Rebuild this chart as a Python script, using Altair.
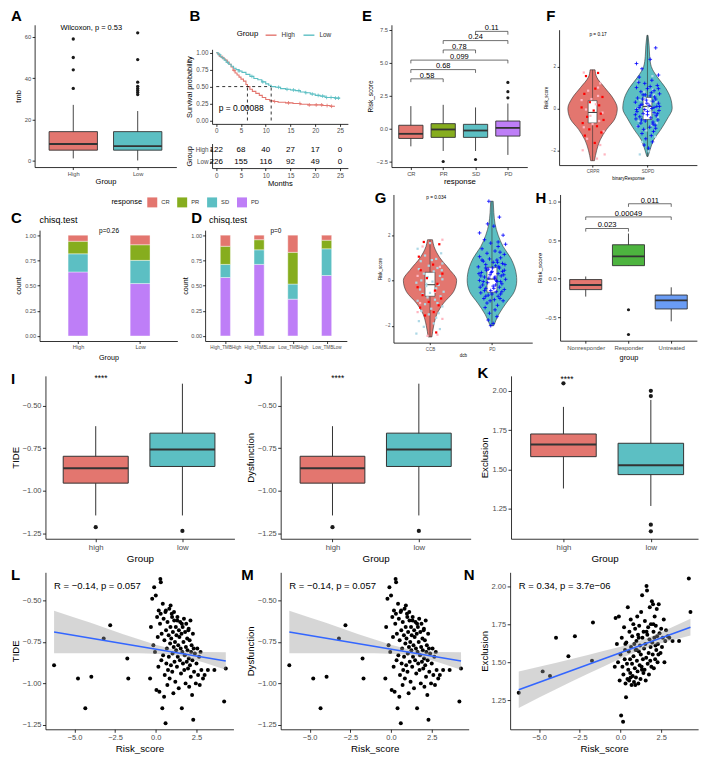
import json
import numpy as np
import pandas as pd
import altair as alt

FONT = "Liberation Sans"
RED = "#E3766F"
TEAL = "#5CBFC3"
GREEN = "#86AD1E"
PURPLE = "#BE7EF7"
H_GREEN = "#4DB43F"
H_BLUE = "#6A9CF4"
DARK = "#333333"
PLUS = "M-1,0L1,0M0,-1L0,1"
LETTER_SIZE = 15
# the reference layout (in its own pixel frame) is squeezed so that the whole figure fits the page
FX = 689 / 698
FY = 740 / 752

# ---------------- data ----------------
# A
A_groups = ["High", "Low"]
A_q1 = [5, 5]
A_med = [8, 7]
A_q3 = [14, 14]
A_lo = [1, 0]
A_hi = [27, 24]
A_out_pos = [1, 1, 1, 1, 2, 2, 2, 2, 2, 2, 2, 2]
A_out_val = [35, 44, 50, 59, 32, 33, 34, 35, 36, 38, 49, 62]

# B
B_high_t = [0, 0.3, 0.6, 1.0, 1.4, 1.8, 2.2, 2.6, 3.0, 3.4, 3.8, 4.2, 4.6, 5.0, 5.5, 6.0, 6.3, 6.8, 7.3, 8.0,
            8.7, 9.3, 10.0, 10.8, 11.6, 12.5, 14.0, 15.5, 17.0, 18.5, 21.5, 23.0, 24.0]
B_high_s = [1.0, 0.98, 0.95, 0.93, 0.91, 0.89, 0.86, 0.83, 0.79, 0.74, 0.70, 0.67, 0.64, 0.61, 0.58, 0.53, 0.50,
            0.46, 0.43, 0.40, 0.37, 0.34, 0.31, 0.29, 0.28, 0.27, 0.26, 0.25, 0.24, 0.23, 0.22, 0.21, 0.21]
B_low_t = [0, 0.4, 0.8, 1.2, 1.6, 2.0, 2.5, 3.0, 3.5, 4.0, 4.6, 5.2, 6.0, 6.8, 7.6, 8.4, 9.2, 10.0, 10.6, 11.1,
           12.0, 13.0, 14.0, 15.0, 16.0, 17.0, 18.0, 19.0, 20.0, 21.0, 22.0, 24.0, 25.0]
B_low_s = [1.0, 0.97, 0.94, 0.92, 0.89, 0.86, 0.83, 0.80, 0.77, 0.75, 0.73, 0.71, 0.68, 0.65, 0.62, 0.60, 0.57,
           0.54, 0.52, 0.50, 0.49, 0.47, 0.46, 0.45, 0.44, 0.42, 0.41, 0.39, 0.37, 0.36, 0.34, 0.33, 0.33]
B_high_cens = [1.3, 3.6, 11.8, 14.6, 16.9, 18.8, 20.2, 21.3, 22.4, 23.3]
B_low_cens = [0.7, 2.3, 4.6, 7.2, 9.4, 12.6, 14.3, 15.6, 16.7, 18.1, 19.4, 20.6, 21.5, 22.3, 23.2, 24.1, 24.7]
B_median_t = [6.3, 11.1]
B_tab_t = [0, 5, 10, 15, 20, 25]
B_tab_high = [122, 68, 40, 27, 17, 0]
B_tab_low = [226, 155, 116, 92, 49, 0]

# C / D
RESP = ["CR", "PR", "SD", "PD"]
RESP_COL = [RED, GREEN, TEAL, PURPLE]
C_groups = ["High", "Low"]
C_CR = [0.06, 0.095]
C_PR = [0.125, 0.155]
C_SD = [0.18, 0.23]
C_PD = [0.635, 0.52]
D_groups = ["High_TMBHigh", "High_TMBLow", "Low_TMBHigh", "Low_TMBLow"]
D_CR = [0.11, 0.045, 0.17, 0.05]
D_PR = [0.18, 0.10, 0.315, 0.085]
D_SD = [0.13, 0.145, 0.15, 0.265]
D_PD = [0.58, 0.71, 0.365, 0.60]

# E
E_names = ["CR", "PR", "SD", "PD"]
E_q1 = [-0.75, -0.67, -0.67, -0.57]
E_med = [-0.40, -0.07, -0.15, 0.05]
E_q3 = [0.25, 0.37, 0.32, 0.57]
E_lo = [-1.35, -1.7, -1.7, -2.0]
E_hi = [1.7, 1.8, 1.6, 1.9]
E_out_pos = [2, 3, 4, 4, 4]
E_out_val = [-2.5, -2.35, 2.33, 2.8, 3.5]
E_cmp_x1 = [1, 1, 1, 2, 2, 3]
E_cmp_x2 = [2, 3, 4, 3, 4, 4]
E_cmp_y = [3.77, 4.47, 5.19, 5.96, 6.67, 7.37]
E_cmp_lab = ["0.58", "0.68", "0.099", "0.78", "0.24", "0.11"]

# F
F_crpr_y = [-2.5, -2.0, -1.5, -1.0, -0.5, 0.0, 0.5, 1.0, 1.5, 1.85]
F_crpr_w = [0.035, 0.075, 0.14, 0.255, 0.405, 0.45, 0.37, 0.22, 0.075, 0.045]
F_sdpd_y = [-2.3, -2.0, -1.5, -1.0, -0.5, 0.0, 0.5, 1.0, 1.5, 2.0, 2.5, 3.0, 3.5]
F_sdpd_w = [0.01, 0.045, 0.115, 0.245, 0.36, 0.45, 0.42, 0.325, 0.18, 0.07, 0.04, 0.03, 0.01]
F_box = [(1, -0.69, -0.19, 0.375, -2.5, 1.85), (2, -0.53, 0.1, 0.53, -2.3, 3.5)]
F_red = [(0.1, 1.7), (-0.12, 1.55), (0.05, 0.95), (-0.15, 0.7), (0.18, 0.55), (-0.05, 0.3), (0.12, 0.15),
         (-0.2, 0.05), (0.02, -0.1), (0.15, -0.25), (-0.1, -0.4), (0.2, -0.55), (-0.18, -0.7), (0.08, -0.85),
         (-0.06, -1.0), (0.16, -1.15), (-0.14, -1.3), (0.04, -1.65)]
F_pink = [(-0.16, 1.72), (0.14, 1.2), (-0.08, 0.85), (0.1, 0.6), (-0.2, 0.4), (0.06, 0.2), (-0.12, -0.05),
          (0.18, -0.2), (-0.04, -0.35), (0.12, -0.6), (-0.16, -0.9), (0.2, -1.1), (-0.1, -1.45), (0.14, -1.75),
          (-0.18, -2.0), (0.22, -2.2), (0.08, -2.4), (-0.02, 0.45), (0.0, -0.75), (0.1, 1.0)]
F_blue = [(-0.2, 2.15), (0.15, 2.9), (0.05, 2.35), (-0.1, 1.9), (0.2, 1.6), (-0.15, 1.5), (0.08, 1.35),
          (-0.05, 1.2), (0.18, 1.1), (-0.2, 1.0), (0.0, 0.95), (0.12, 0.85), (-0.12, 0.8), (0.22, 0.7),
          (-0.08, 0.65), (0.05, 0.6), (-0.18, 0.5), (0.15, 0.45), (-0.02, 0.4), (0.1, 0.35), (-0.22, 0.3),
          (0.2, 0.25), (-0.1, 0.2), (0.03, 0.15), (0.17, 0.1), (-0.15, 0.05), (0.08, 0.0), (-0.05, -0.05),
          (0.21, -0.1), (-0.19, -0.15), (0.12, -0.2), (-0.08, -0.25), (0.0, -0.3), (0.16, -0.35), (-0.14, -0.4),
          (0.06, -0.45), (-0.21, -0.5), (0.19, -0.55), (-0.04, -0.6), (0.1, -0.65), (-0.12, -0.7), (0.14, -0.8),
          (-0.17, -0.85), (0.04, -0.9), (-0.07, -1.0), (0.11, -1.1), (-0.1, -1.2), (0.07, -1.3), (-0.03, -1.45),
          (0.09, -1.6), (-0.06, -1.75), (0.02, -1.9), (0.13, 0.55), (-0.13, 0.15), (0.18, -0.25), (-0.2, -0.05),
          (0.07, 0.75), (-0.09, 0.45), (0.0, -0.15), (0.2, 0.95), (-0.16, 1.25), (0.1, -0.75), (-0.01, 0.25),
          (0.15, -0.95), (-0.11, -0.55), (0.05, 1.05), (0.22, 0.1), (-0.22, -0.3), (0.12, 0.05), (-0.04, 0.65)]
F_lblue = [(-0.18, 1.3), (0.1, 0.9), (-0.05, 0.5), (0.16, 0.3), (-0.12, 0.1), (0.04, -0.1), (0.19, -0.4),
           (-0.16, -0.6), (0.08, -0.8), (-0.02, -1.05), (0.14, -1.35), (-0.1, -1.6), (0.02, -2.05), (-0.14, -2.2),
           (0.12, 0.65), (-0.2, 0.0), (0.06, 0.35), (-0.08, -0.3), (0.17, -0.7), (-0.06, 0.8), (0.09, 1.55),
           (-0.19, -0.85), (0.01, 0.05), (0.11, -0.2), (-0.13, 0.4)]

# G
G_ccb_y = [-2.5, -2.0, -1.5, -1.0, -0.5, 0.0, 0.5, 1.0, 1.5, 1.8]
G_ccb_w = [0.03, 0.06, 0.11, 0.22, 0.38, 0.43, 0.31, 0.16, 0.065, 0.04]
G_pd_y = [-2.0, -1.5, -1.0, -0.5, 0.0, 0.5, 1.0, 1.5, 2.0, 2.5, 3.0, 3.5]
G_pd_w = [0.03, 0.11, 0.23, 0.36, 0.40, 0.375, 0.30, 0.18, 0.10, 0.05, 0.03, 0.02]
G_box = [(1, -0.70, -0.19, 0.36, -2.5, 1.8), (2, -0.52, 0.06, 0.58, -2.0, 3.5)]
G_red = [(-0.1, 1.7), (0.15, 1.6), (-0.18, 1.05), (0.05, 0.7), (-0.15, 0.45), (0.2, 0.3), (-0.05, 0.1),
         (0.12, -0.15), (-0.2, -0.3), (0.08, -0.45), (-0.12, -0.65), (0.18, -0.8), (-0.02, -0.95), (0.14, -1.1),
         (-0.16, -1.2), (0.06, -1.4), (-0.08, -1.55), (0.1, -2.3)]
G_lblue = [(0.0, 1.65), (-0.2, 1.4), (0.18, 1.2), (-0.08, 1.1), (0.1, 0.95), (-0.15, 0.85), (0.2, 0.75),
           (-0.02, 0.65), (0.12, 0.55), (-0.18, 0.5), (0.06, 0.4), (-0.1, 0.3), (0.16, 0.2), (-0.04, 0.15),
           (0.2, 0.05), (-0.14, 0.0), (0.04, -0.05), (-0.22, -0.1), (0.14, -0.2), (-0.06, -0.25), (0.1, -0.35),
           (-0.16, -0.4), (0.22, -0.5), (0.0, -0.55), (-0.12, -0.6), (0.17, -0.7), (-0.04, -0.75), (0.08, -0.85),
           (-0.2, -0.9), (0.12, -1.0), (-0.08, -1.05), (0.2, -1.15), (0.02, -1.25), (-0.14, -1.35), (0.14, -1.45),
           (-0.02, -1.5), (0.1, -1.65), (-0.18, -1.8), (0.06, -1.9), (-0.1, -2.05), (0.16, -2.15), (-0.22, -2.35),
           (0.03, 0.9), (-0.06, -0.15), (0.19, 0.45)]
G_pink = [(0.2, 1.8), (-0.12, 1.5), (0.16, 0.6), (-0.2, 0.2), (0.08, -0.5), (-0.16, -1.0), (0.2, -1.7),
          (-0.04, -2.45), (0.12, -2.4), (-0.2, -1.4)]
G_blue = [(-0.05, 3.5), (0.12, 2.8), (0.03, 2.4), (-0.2, 2.1), (0.18, 2.0), (-0.12, 1.8), (0.22, 1.6),
          (-0.02, 1.65), (0.1, 1.5), (-0.16, 1.4), (0.05, 1.3), (-0.08, 1.2), (0.2, 1.15), (-0.2, 1.05),
          (0.14, 1.0), (-0.04, 0.95), (0.08, 0.9), (-0.14, 0.85), (0.02, 0.8), (0.17, 0.75), (-0.1, 0.7),
          (0.06, 0.65), (-0.22, 0.6), (0.12, 0.55), (-0.06, 0.5), (0.2, 0.45), (0.0, 0.4), (-0.17, 0.35),
          (0.1, 0.3), (-0.03, 0.25), (0.15, 0.2), (-0.12, 0.15), (0.04, 0.1), (0.22, 0.05), (-0.2, 0.0),
          (0.08, -0.05), (-0.07, -0.1), (0.16, -0.15), (-0.15, -0.2), (0.02, -0.25), (0.12, -0.3), (-0.1, -0.35),
          (0.2, -0.4), (-0.02, -0.45), (0.07, -0.5), (-0.18, -0.55), (0.14, -0.6), (-0.06, -0.65), (0.1, -0.7),
          (-0.13, -0.8), (0.04, -0.85), (0.18, -0.9), (-0.08, -1.0), (0.09, -1.1), (-0.11, -1.2), (0.05, -1.3),
          (-0.04, -1.45), (0.08, -1.6), (-0.06, -1.75), (0.02, -1.9), (-0.02, -2.0), (0.13, 1.25), (-0.09, 0.45),
          (0.19, 0.25), (-0.14, -0.05), (0.06, -0.2), (-0.19, -0.3), (0.11, 0.6), (-0.05, 0.1), (0.16, -0.5),
          (-0.1, 0.55), (0.0, -0.6), (0.21, 0.7), (-0.16, 0.9), (0.07, 0.0), (-0.01, 0.35), (0.13, -0.8),
          (-0.21, 0.3), (0.03, -0.35), (0.1, 1.7), (-0.07, 2.5), (0.05, 0.15), (-0.12, -0.45), (0.17, 0.4),
          (-0.03, -0.9), (0.09, 0.8), (-0.18, 0.2), (0.01, 0.55), (0.14, -0.05), (-0.1, -0.7)]

# H
H_names = ["Nonresponder", "Responder", "Untreated"]
H_q1 = [-0.14, 0.17, -0.39]
H_med = [-0.08, 0.29, -0.28]
H_q3 = [-0.01, 0.44, -0.21]
H_lo = [-0.23, 0.17, -0.55]
H_hi = [0.03, 0.585, -0.11]
H_out_pos = [2, 2]
H_out_val = [-0.40, -0.72]
H_cmp_x1 = [1, 1, 2]
H_cmp_x2 = [2, 3, 3]
H_cmp_y = [0.65, 0.80, 0.97]
H_cmp_lab = ["0.023", "0.00049", "0.011"]

# I / J / K
IK_groups = ["high", "low"]
TIDE_q1 = [-0.956, -0.858]
TIDE_med = [-0.869, -0.758]
TIDE_q3 = [-0.798, -0.662]
TIDE_lo = [-1.146, -1.146]
TIDE_hi = [-0.621, -0.371]
TIDE_out_pos = [1, 2]
TIDE_out_val = [-1.215, -1.237]
EXC_q1 = [1.582, 1.468]
EXC_med = [1.659, 1.528]
EXC_q3 = [1.726, 1.667]
EXC_lo = [1.380, 1.269]
EXC_hi = [1.898, 1.942]
EXC_out_pos = [1, 2, 2, 2, 2]
EXC_out_val = [2.048, 2.0, 1.967, 1.150, 1.108]

# L / M / N
RS = [-6.25, -4.78, -4.33, -3.96, -3.2, -2.8, -1.75, -1.69,
      -0.35, -0.3, -0.22, -0.15, -0.1, -0.05, 0.0, 0.04, 0.08, 0.12, 0.16, 0.18, 0.22, 0.26, 0.28, 0.31, 0.34, 0.36, 0.4, 0.43,
      0.45, 0.48, 0.51, 0.53, 0.55, 0.59, 0.6, 0.63, 0.65, 0.68, 0.71, 0.72, 0.75, 0.79, 0.8, 0.83, 0.85, 0.88, 0.9, 0.93,
      0.95, 0.98, 1.01, 1.03, 1.05, 1.08, 1.1, 1.13, 1.15, 1.18, 1.2, 1.23, 1.25, 1.27, 1.3, 1.33, 1.35, 1.38, 1.41, 1.42,
      1.45, 1.48, 1.5, 1.53, 1.55, 1.58, 1.6, 1.63, 1.65, 1.67, 1.7, 1.73, 1.75, 1.78, 1.8, 1.83, 1.85, 1.87, 1.9, 1.93,
      1.95, 1.98, 2.0, 2.03, 2.05, 2.08, 2.1, 2.13, 2.15, 2.17, 2.2, 2.23, 2.25, 2.28, 2.3, 2.35, 2.4, 2.46, 2.5, 2.55,
      2.6, 2.66, 2.7, 2.75, 2.8, 2.9, 3.0, 3.2, 3.6, 4.2, 4.3, 0.3, 0.62, 1.0, 1.32, 1.6, 2.02, 2.33, 0.91, 1.12]
TIDE = [-0.89, -0.97, -1.15, -0.96, -0.73, -0.65, -0.85, -0.97,
        -0.97, -0.66, -0.49, -0.77, -0.42, -0.81, -0.47, -1.04, -0.60, -0.72, -0.90, -0.56, -1.05, -0.64, -0.37, -0.39, -0.86, -0.70, -1.15, -0.52,
        -0.83, -0.61, -1.08, -0.74, -0.95, -0.57, -1.24, -0.68, -0.88, -0.79, -1.01, -0.63, -0.92, -0.71, -0.84, -0.55, -0.97, -0.76, -0.66, -0.89,
        -0.73, -0.58, -0.93, -0.82, -0.69, -1.06, -0.78, -0.62, -0.87, -0.75, -0.99, -0.66, -0.80, -0.71, -0.90, -0.60, -0.84, -0.77, -1.03, -0.68,
        -0.72, -0.86, -0.63, -0.79, -0.94, -0.70, -1.15, -0.81, -0.66, -0.88, -0.75, -0.61, -0.92, -0.83, -0.69, -1.00, -0.78, -0.64, -0.87, -0.73,
        -0.80, -0.91, -0.68, -0.85, -1.02, -0.74, -0.89, -0.62, -0.96, -0.81, -0.77, -1.07, -0.86, -0.70, -1.22, -0.93, -0.82, -1.00, -0.88, -0.79,
        -0.95, -0.84, -1.01, -0.81, -0.92, -0.97, -0.95, -0.92, -0.92, -1.11, -0.91, -0.58, -0.56, -0.60, -0.62, -0.64, -0.67, -0.79, -0.53, -0.57]
EXCL = [1.30, 1.44, 1.41, 1.66, 1.54, 1.67, 1.51, 1.76,
        1.47, 1.79, 1.62, 1.50, 1.80, 1.38, 1.55, 1.15, 1.66, 1.47, 1.11, 1.42, 1.73, 1.52, 1.58, 1.36, 1.27, 1.63, 1.49, 1.39,
        1.86, 1.45, 1.57, 1.38, 1.70, 1.52, 1.43, 1.78, 1.60, 1.35, 1.49, 1.67, 1.41, 1.75, 1.54, 1.37, 1.62, 1.46, 1.72, 1.58,
        1.40, 1.64, 1.51, 1.80, 1.44, 1.68, 1.36, 1.57, 1.74, 1.48, 1.61, 1.39, 1.55, 1.83, 1.47, 1.94, 1.66, 1.52, 1.43, 1.70,
        1.59, 1.45, 1.77, 1.62, 1.38, 1.53, 2.00, 1.97, 1.68, 1.49, 1.73, 1.56, 1.42, 1.65, 1.86, 1.51, 1.60, 1.75, 1.47, 1.90,
        1.63, 1.55, 1.88, 1.70, 1.46, 1.66, 1.80, 1.52, 1.61, 1.74, 1.58, 1.85, 1.67, 1.50, 1.62, 1.88, 1.69, 1.56, 1.72, 1.60,
        1.66, 1.78, 1.50, 1.64, 1.71, 1.67, 1.66, 1.64, 1.64, 2.05, 1.83, 1.62, 1.40, 1.58, 1.45, 1.70, 1.75, 1.55, 1.35, 1.66]
BAND_X = [-6.25, -5, -4, -3, -2, -1, 0, 1, 1.5, 2, 3, 4.3]
L_band_lo = [-0.818, -0.819, -0.819, -0.819, -0.819, -0.819, -0.821, -0.827, -0.835, -0.847, -0.876, -0.918]
L_band_hi = [-0.562, -0.603, -0.635, -0.669, -0.703, -0.735, -0.767, -0.793, -0.801, -0.807, -0.810, -0.812]
L_line_y = [-0.69, -0.865]
N_band_lo = [1.200, 1.268, 1.321, 1.373, 1.424, 1.474, 1.525, 1.570, 1.590, 1.609, 1.639, 1.675]
N_band_hi = [1.440, 1.470, 1.495, 1.521, 1.548, 1.576, 1.601, 1.634, 1.654, 1.673, 1.721, 1.785]
N_line_y = [1.32, 1.73]


# ---------------- helpers ----------------
def SX(x):
    return 4 + (x - 4) * FX


def SY(y):
    return 4 + (y - 4) * FY


def axis(values, title, lsize, tsize, offset=0, fmt=None, expr=None, tick=3.0, lpad=1.5, tpad=3.0):
    kw = dict(title=title, labelFontSize=lsize, titleFontSize=tsize, grid=False, offset=offset,
              domainColor="black", tickColor="black", labelColor="#4D4D4D", titleColor="black",
              domainWidth=0.8, tickWidth=0.8, tickSize=tick, labelPadding=lpad, titlePadding=tpad,
              titleFontWeight="normal", labelFont=FONT, titleFont=FONT, labelFlush=False,
              labelOverlap=False)
    if values is not None:
        kw["values"] = values
    if fmt is not None:
        kw["format"] = fmt
    if expr is not None:
        kw["labelExpr"] = expr
    return alt.Axis(**kw)


def lab_expr(names):
    return json.dumps([""] + list(names)) + "[datum.value]"


class Panel:
    """A cell of the figure; the chart fills the whole cell and its plot area sits inside it."""

    def __init__(self, cell, origin=None, w=1, h=1):
        cx0, cx1, cy0, cy1 = cell
        self.cx0, self.cy0 = SX(cx0), SY(cy0)
        self.W, self.H = SX(cx1) - self.cx0, SY(cy1) - self.cy0
        if origin is None:
            origin = (cx0, cy0)
        self.px, self.py = SX(origin[0]) - self.cx0, SY(origin[1]) - self.cy0
        self.w, self.h = w * FX, h * FY
        self.xr = [self.px, self.px + self.w]
        self.yr = [self.py + self.h, self.py]

    def lx(self, x):
        return SX(x) - self.cx0

    def ly(self, y):
        return SY(y) - self.cy0

    def xaxis(self, values, title, lsize, tsize, **kw):
        return axis(values, title, lsize, tsize, offset=self.py + self.h - self.H, **kw)

    def yaxis(self, values, title, lsize, tsize, **kw):
        return axis(values, title, lsize, tsize, offset=-self.px, **kw)

    def X(self, field, dom, ax):
        return alt.X(field, type="quantitative",
                     scale=alt.Scale(domain=dom, range=self.xr, nice=False, zero=False), axis=ax)

    def Y(self, field, dom, ax):
        return alt.Y(field, type="quantitative",
                     scale=alt.Scale(domain=dom, range=self.yr, nice=False, zero=False), axis=ax)

    def letter(self, ch, x, y, size=LETTER_SIZE):
        return alt.Chart(pd.DataFrame({"t": [ch]})).mark_text(
            align="left", baseline="top", font=FONT, fontSize=size, fontWeight="bold", color="black"
        ).encode(x=alt.value(self.lx(x)), y=alt.value(self.ly(y)), text="t:N")

    def label(self, s, x, y, size):
        return alt.Chart(pd.DataFrame({"t": [s]})).mark_text(
            align="left", baseline="alphabetic", font=FONT, fontSize=size, color="black"
        ).encode(x=alt.value(self.lx(x)), y=alt.value(self.ly(y)), text="t:N")

    def finish(self, layers):
        return alt.layer(*layers).properties(width=self.W, height=self.H)


def text_layer(p, x, y, s, xd, yd, xa, ya, size, align="center", baseline="middle"):
    df = pd.DataFrame({"x": [x], "y": [y], "t": [s]})
    return alt.Chart(df).mark_text(align=align, baseline=baseline, fontSize=size, font=FONT, color="black").encode(
        x=p.X("x", xd, xa), y=p.Y("y", yd, ya), text="t:N")


def row(items):
    return alt.concat(*items, columns=len(items), spacing=0).resolve_scale(color="independent")


def col(items):
    return alt.concat(*items, columns=1, spacing=0).resolve_scale(color="independent")


def box_layers(p, q1, med, q3, lo, hi, out_pos, out_val, colors, xd, yd, xa, ya, hw=0.375, psize=12, lw=0.9,
               mw=1.8):
    n = len(q1)
    df = pd.DataFrame({"pos": list(range(1, n + 1)), "q1": q1, "med": med, "q3": q3, "lo": lo, "hi": hi,
                       "col": colors})
    df["l"] = df["pos"] - hw
    df["r"] = df["pos"] + hw
    base = alt.Chart(df)
    whisk = base.mark_rule(color=DARK, strokeWidth=lw).encode(x=p.X("pos", xd, xa), y=p.Y("lo", yd, ya), y2="hi")
    box = base.mark_bar(stroke=DARK, strokeWidth=lw).encode(
        x=p.X("l", xd, xa), x2="r", y=p.Y("q1", yd, ya), y2="q3", color=alt.Color("col:N", scale=None))
    mline = base.mark_rule(color=DARK, strokeWidth=mw).encode(x=p.X("l", xd, xa), x2="r", y=p.Y("med", yd, ya))
    odf = pd.DataFrame({"pos": out_pos, "val": out_val})
    outs = alt.Chart(odf).mark_circle(size=psize, color="#1A1A1A", opacity=1).encode(
        x=p.X("pos", xd, xa), y=p.Y("val", yd, ya))
    return [whisk, box, mline, outs]


def bracket_layers(p, x1, x2, yb, labels, tip, lab_dy, xd, yd, xa, ya, size):
    df = pd.DataFrame({"x1": x1, "x2": x2, "y": yb, "lab": labels})
    df["yt"] = df["y"] - tip
    df["xm"] = (df["x1"] + df["x2"]) / 2
    df["yl"] = df["y"] + lab_dy
    b = alt.Chart(df)
    return [
        b.mark_rule(color=DARK, strokeWidth=0.7).encode(x=p.X("x1", xd, xa), x2="x2", y=p.Y("y", yd, ya)),
        b.mark_rule(color=DARK, strokeWidth=0.7).encode(x=p.X("x1", xd, xa), y=p.Y("yt", yd, ya), y2="y"),
        b.mark_rule(color=DARK, strokeWidth=0.7).encode(x=p.X("x2", xd, xa), y=p.Y("yt", yd, ya), y2="y"),
        b.mark_text(fontSize=size, font=FONT, baseline="alphabetic", color="black").encode(
            x=p.X("xm", xd, xa), y=p.Y("yl", yd, ya), text="lab:N"),
    ]


def violin_layers(p, vios, boxes, pts, xd, yd, xa, ya):
    layers = []
    for c, ys, ws, colr in vios:
        df = pd.DataFrame({"y": ys, "xl": [c - w for w in ws], "xr": [c + w for w in ws]})
        layers.append(alt.Chart(df).mark_area(orient="horizontal", interpolate="monotone", fill=colr,
                                              stroke=DARK, strokeWidth=0.6, opacity=1).encode(
            y=p.Y("y", yd, ya), x=p.X("xl", xd, xa), x2="xr"))
    bdf = pd.DataFrame(boxes, columns=["pos", "q1", "med", "q3", "lo", "hi"])
    bdf["l"] = bdf["pos"] - 0.08
    bdf["r"] = bdf["pos"] + 0.08
    b = alt.Chart(bdf)
    layers.append(b.mark_rule(color=DARK, strokeWidth=0.6).encode(
        x=p.X("pos", xd, xa), y=p.Y("lo", yd, ya), y2="hi"))
    layers.append(b.mark_bar(fill="white", stroke=DARK, strokeWidth=0.6).encode(
        x=p.X("l", xd, xa), x2="r", y=p.Y("q1", yd, ya), y2="q3"))
    layers.append(b.mark_rule(color=DARK, strokeWidth=1.0).encode(
        x=p.X("l", xd, xa), x2="r", y=p.Y("med", yd, ya)))
    for pairs, center, colr, kind in pts:
        df = pd.DataFrame({"x": [center + q[0] for q in pairs], "y": [q[1] for q in pairs]})
        if kind == "sq":
            m = alt.Chart(df).mark_point(shape="square", filled=True, size=5, color=colr, opacity=1)
        else:
            m = alt.Chart(df).mark_point(shape=PLUS, filled=False, size=14, color=colr, strokeWidth=0.8, opacity=1)
        layers.append(m.encode(x=p.X("x", xd, xa), y=p.Y("y", yd, ya)))
    return layers


def stack_df(cr, pr, sd, pdv, hw):
    parts = {"CR": cr, "PR": pr, "SD": sd, "PD": pdv}
    rows = []
    for i in range(len(cr)):
        bottom = 0.0
        for r in ["PD", "SD", "PR", "CR"]:
            v = parts[r][i]
            rows.append({"pos": i + 1, "resp": r, "y0": bottom, "y1": bottom + v,
                         "col": RESP_COL[RESP.index(r)]})
            bottom += v
    df = pd.DataFrame(rows)
    df["l"] = df["pos"] - hw
    df["r"] = df["pos"] + hw
    return df


def scatter_layers(p, ys, blo, bhi, ly, xd, yd, xa, ya, annot, ann_y):
    pts = alt.Chart(pd.DataFrame({"x": RS, "y": ys})).mark_circle(size=16, color="black", opacity=1).encode(
        x=p.X("x", xd, xa), y=p.Y("y", yd, ya))
    band = alt.Chart(pd.DataFrame({"x": BAND_X, "lo": blo, "hi": bhi})).mark_area(
        color="#999999", opacity=0.4).encode(x=p.X("x", xd, xa), y=p.Y("lo", yd, ya), y2="hi")
    line = alt.Chart(pd.DataFrame({"x": [BAND_X[0], BAND_X[-1]], "y": ly})).mark_line(
        color="#3366FF", strokeWidth=1.6).encode(x=p.X("x", xd, xa), y=p.Y("y", yd, ya))
    txt = text_layer(p, BAND_X[0], ann_y, annot, xd, yd, xa, ya, 9.5, align="left")
    return [pts, band, line, txt]


# ---------------- panel A ----------------
p = Panel((4, 180, 4, 184), (28, 20), 144, 145)
xd, yd = [0.4, 2.6], [-3.2, 65.9]
xa = p.xaxis([1, 2], "Group", 5.8, 7.5, expr=lab_expr(A_groups), tick=2.5, lpad=1, tpad=1.5)
ya = p.yaxis([0, 20, 40, 60], "tmb", 5.8, 7.5, fmt="d", tick=2.5, tpad=2)
A_chart = p.finish([
    *box_layers(p, A_q1, A_med, A_q3, A_lo, A_hi, A_out_pos, A_out_val, [RED, TEAL], xd, yd, xa, ya, psize=11),
    text_layer(p, 1.28, 64.2, "Wilcoxon, p = 0.53", xd, yd, xa, ya, 7.5),
    p.letter("A", 4, 4),
])

# ---------------- panel B ----------------
p = Panel((180, 356, 4, 131), (208, 45), 138, 76)
bxd, byd = [-0.85, 26.6], [-0.05, 1.05]
bxa = p.xaxis([0, 5, 10, 15, 20, 25], None, 6.3, 7.4, tick=2.5)
bya = p.yaxis([0, 0.25, 0.5, 0.75, 1.0], "Survival probability", 6.3, 7.4, fmt=".2f", tick=2.5, tpad=2)
surv = pd.concat([
    pd.DataFrame({"grp": "High", "t": B_high_t, "s": B_high_s}),
    pd.DataFrame({"grp": "Low", "t": B_low_t, "s": B_low_s}),
])


def step_at(ts, ss, c):
    i = int(np.searchsorted(ts, c, side="right")) - 1
    return ss[i]


cens = pd.DataFrame({
    "t": B_high_cens + B_low_cens,
    "s": [step_at(B_high_t, B_high_s, c) for c in B_high_cens] + [step_at(B_low_t, B_low_s, c) for c in B_low_cens],
    "col": [RED] * len(B_high_cens) + [TEAL] * len(B_low_cens),
})
B_lines = alt.Chart(surv).mark_line(interpolate="step-after", strokeWidth=1.1).encode(
    x=p.X("t", bxd, bxa), y=p.Y("s", byd, bya),
    color=alt.Color("grp:N", scale=alt.Scale(domain=["High", "Low"], range=[RED, TEAL]),
                    legend=alt.Legend(orient="none", legendX=p.lx(233), legendY=p.ly(24), direction="horizontal",
                                      title="Group", titleOrient="left", titleFontSize=7.8,
                                      titleFontWeight="normal", titleColor="black", titleFont=FONT,
                                      labelFont=FONT, labelFontSize=6.5, labelColor="#333333",
                                      symbolType="stroke", symbolSize=120, symbolStrokeWidth=1.4,
                                      columnPadding=5, titlePadding=6)))
B_cens = alt.Chart(cens).mark_point(shape=PLUS, filled=False, size=14, strokeWidth=0.8, opacity=1).encode(
    x=p.X("t", bxd, bxa), y=p.Y("s", byd, bya), color=alt.Color("col:N", scale=None))
dh = pd.DataFrame({"x1": [0], "x2": [max(B_median_t)], "y": [0.5]})
dv = pd.DataFrame({"x": B_median_t, "y0": [0, 0], "y1": [0.5, 0.5]})
B_dh = alt.Chart(dh).mark_rule(color="black", strokeDash=[3, 3], strokeWidth=0.8).encode(
    x=p.X("x1", bxd, bxa), x2="x2", y=p.Y("y", byd, bya))
B_dv = alt.Chart(dv).mark_rule(color="black", strokeDash=[3, 3], strokeWidth=0.8).encode(
    x=p.X("x", bxd, bxa), y=p.Y("y0", byd, bya), y2="y1")
B_curve = p.finish([
    B_cens, B_lines, B_dh, B_dv,
    text_layer(p, 0.5, 0.18, "p = 0.00088", bxd, byd, bxa, bya, 8.5, align="left"),
    p.letter("B", 185, 4),
])

p = Panel((180, 356, 131, 184), (208, 140), 138, 25)
tab = pd.concat([
    pd.DataFrame({"grp": "High", "t": B_tab_t, "n": B_tab_high}),
    pd.DataFrame({"grp": "Low", "t": B_tab_t, "n": B_tab_low}),
])
txa = p.xaxis([0, 5, 10, 15, 20, 25], "Months", 6.3, 7.6, tick=2.5, tpad=1)
B_table = p.finish([
    alt.Chart(tab).mark_text(fontSize=8, font=FONT, color="black").encode(
        x=p.X("t", bxd, txa),
        y=alt.Y("grp:N", scale=alt.Scale(domain=["High", "Low"], type="point", padding=0.5,
                                         range=[p.py, p.py + p.h]),
                axis=p.yaxis(None, "Group", 6.3, 7.4, tick=2.5, tpad=2)),
        text="n:Q"),
])
B_block = col([B_curve, B_table])

# ---------------- panel E ----------------
p = Panel((356, 535, 4, 184), (390, 20), 138, 145)
xd, yd = [0.4, 4.6], [-2.92, 7.87]
xa = p.xaxis([1, 2, 3, 4], "response", 5.8, 7.8, expr=lab_expr(E_names), tick=2.5, lpad=1, tpad=1.5)
ya = p.yaxis([-2.5, 0, 2.5, 5, 7.5], "Risk_score", 5.8, 6.5, fmt=".1f", tick=2.5)
E_chart = p.finish([
    *box_layers(p, E_q1, E_med, E_q3, E_lo, E_hi, E_out_pos, E_out_val, [RED, GREEN, TEAL, PURPLE],
                xd, yd, xa, ya, psize=10),
    *bracket_layers(p, E_cmp_x1, E_cmp_x2, E_cmp_y, E_cmp_lab, 0.25, 0.1, xd, yd, xa, ya, 7.5),
    p.letter("E", 360, 4),
])

# ---------------- panel F ----------------
p = Panel((535, 702, 4, 184), (560, 25), 140, 138)
xd, yd = [0.39, 2.90], [-2.71, 3.77]
xa = p.xaxis([1, 2], "binaryResponse", 4.5, 4.5, expr=lab_expr(["CRPR", "SDPD"]), tick=2, tpad=2)
ya = p.yaxis([-2, 0, 2], "Risk_score", 4.5, 4.5, fmt="d", tick=2, tpad=2)
F_chart = p.finish([
    *violin_layers(p, [(1, F_crpr_y, F_crpr_w, RED), (2, F_sdpd_y, F_sdpd_w, TEAL)], F_box,
                   [(F_pink, 1, "#FFB6C1", "sq"), (F_red, 1, "#FF0000", "sq"),
                    (F_lblue, 2, "#ADD8E6", "sq"), (F_blue, 2, "#0000FF", "plus")], xd, yd, xa, ya),
    text_layer(p, 1.1, 3.53, "p = 0.17", xd, yd, xa, ya, 4.8),
    p.letter("F", 547, 4),
])

# ---------------- legend strip for C / D ----------------
p = Panel((4, 358, 184, 205))
leg_df = pd.DataFrame({"resp": RESP})
LEG_chart = p.finish([
    alt.Chart(leg_df).mark_point(shape="square", filled=True, opacity=0).encode(
        x=alt.value(0), y=alt.value(0),
        color=alt.Color("resp:N", scale=alt.Scale(domain=RESP, range=RESP_COL),
                        legend=alt.Legend(orient="none", legendX=p.lx(106), legendY=p.ly(191),
                                          direction="horizontal",
                                          title="response", titleOrient="left", titleFontSize=7.5,
                                          titleFontWeight="normal", titleColor="black", titleFont=FONT,
                                          labelFont=FONT, labelFontSize=5.8, labelColor="#333333",
                                          symbolType="square", symbolSize=100, symbolStrokeWidth=0,
                                          symbolOpacity=1, columnPadding=7, titlePadding=5))),
])

# ---------------- panel C / D ----------------
cyd = [-0.05, 1.05]
p = Panel((4, 176, 205, 362), (33, 224), 140, 113)
C_df = stack_df(C_CR, C_PR, C_SD, C_PD, 0.16)
xd = [0.38, 2.6]
xa = p.xaxis([1, 2], "Group", 5.6, 7.2, expr=lab_expr(C_groups), tick=2.5)
ya = p.yaxis([0, 0.25, 0.5, 0.75, 1.0], "count", 5.6, 7.2, fmt=".2f", tick=2.5, tpad=2)
C_chart = p.finish([
    alt.Chart(C_df).mark_bar(stroke="white", strokeWidth=0.4).encode(
        x=p.X("l", xd, xa), x2="r", y=p.Y("y0", cyd, ya), y2="y1", color=alt.Color("col:N", scale=None)),
    text_layer(p, 1.5, 1.04, "p=0.26", xd, cyd, xa, ya, 6.5),
    p.letter("C", 4, 205),
    p.label("chisq.test", 33, 217, 9),
])

p = Panel((176, 358, 205, 362), (201, 224), 144, 113)
D_df = stack_df(D_CR, D_PR, D_SD, D_PD, 0.15)
xd = [0.4, 4.6]
xa = p.xaxis([1, 2, 3, 4], None, 4.6, 7.2, expr=lab_expr(D_groups), tick=2.5)
ya = p.yaxis([0, 0.25, 0.5, 0.75, 1.0], "count", 5.6, 7.2, fmt=".2f", tick=2.5, lpad=1, tpad=1.5)
D_chart = p.finish([
    alt.Chart(D_df).mark_bar(stroke="white", strokeWidth=0.4).encode(
        x=p.X("l", xd, xa), x2="r", y=p.Y("y0", cyd, ya), y2="y1", color=alt.Color("col:N", scale=None)),
    text_layer(p, 2.5, 1.04, "p=0", xd, cyd, xa, ya, 6.5),
    p.letter("D", 187, 205),
    p.label("chisq.test", 205, 217, 9),
])

# ---------------- panel G ----------------
p = Panel((358, 535, 184, 362), (392, 188), 141, 151)
xd, yd = [0.41, 2.65], [-2.75, 3.8]
xa = p.xaxis([1, 2], "dcb", 4.5, 4.5, expr=lab_expr(["CCB", "PD"]), tick=2, tpad=2)
ya = p.yaxis([-2, 0, 2], "Risk_score", 4.5, 4.5, fmt="d", tick=2, tpad=2)
G_chart = p.finish([
    *violin_layers(p, [(1, G_ccb_y, G_ccb_w, RED), (2, G_pd_y, G_pd_w, TEAL)], G_box,
                   [(G_pink, 1, "#FFB6C1", "sq"), (G_lblue, 1, "#ADD8E6", "sq"), (G_red, 1, "#FF0000", "sq"),
                    (G_blue, 2, "#0000FF", "plus")], xd, yd, xa, ya),
    text_layer(p, 1.1, 3.63, "p = 0.034", xd, yd, xa, ya, 4.8),
    p.letter("G", 373, 184),
])

# ---------------- panel H ----------------
p = Panel((535, 702, 184, 362), (561, 188), 139, 149)
xd, yd = [0.4, 3.6], [-0.80, 1.09]
xa = p.xaxis([1, 2, 3], "group", 6, 7.4, expr=lab_expr(H_names), tick=2.5)
ya = p.yaxis([-0.5, 0, 0.5, 1.0], "Risk_score", 5.8, 6.2, fmt=".1f", tick=2.5, tpad=2.5)
H_chart = p.finish([
    *box_layers(p, H_q1, H_med, H_q3, H_lo, H_hi, H_out_pos, H_out_val, [RED, H_GREEN, H_BLUE],
                xd, yd, xa, ya, psize=10),
    *bracket_layers(p, H_cmp_x1, H_cmp_x2, H_cmp_y, H_cmp_lab, 0.04, 0.015, xd, yd, xa, ya, 7.6),
    p.letter("H", 536, 184),
])

# ---------------- panels I J K ----------------
tyd = [-1.283, -0.325]
kyd = [1.061, 2.095]


def ik_chart(title, q1, med, q3, lo, hi, op, ov, xd, yd, yvals, cell, origin, w, lets, star_x, star_y):
    p = Panel(cell, origin, w, 166)
    xa_ = p.xaxis([1, 2], "Group", 7.8, 9.8, expr=lab_expr(IK_groups), tpad=2.5)
    ya_ = p.yaxis(yvals, title, 7.5, 9.6, fmt=".2f", tpad=2)
    return p.finish([
        *box_layers(p, q1, med, q3, lo, hi, op, ov, [RED, TEAL], xd, yd, xa_, ya_, psize=18, lw=1.0, mw=2.0),
        text_layer(p, star_x, star_y, "****", xd, yd, xa_, ya_, 8.4),
        *[p.letter(c, lx, ly) for c, lx, ly in lets],
    ])


I_chart = ik_chart("TIDE", TIDE_q1, TIDE_med, TIDE_q3, TIDE_lo, TIDE_hi, TIDE_out_pos, TIDE_out_val,
                   [0.42, 2.6], tyd, [-1.25, -1.0, -0.75, -0.5], (4, 236, 362, 563), (39, 372), 192,
                   [("I", 4, 368)], 1.06, -0.337)
J_chart = ik_chart("Dysfunction", TIDE_q1, TIDE_med, TIDE_q3, TIDE_lo, TIDE_hi, TIDE_out_pos, TIDE_out_val,
                   [0.4, 2.6], tyd, [-1.25, -1.0, -0.75, -0.5], (236, 470, 362, 563), (277, 372), 193,
                   [("J", 240, 368)], 1.06, -0.337)
K_chart = ik_chart("Exclusion", EXC_q1, EXC_med, EXC_q3, EXC_lo, EXC_hi, EXC_out_pos, EXC_out_val,
                   [0.40, 2.54], kyd, [1.25, 1.5, 1.75, 2.0], (470, 702, 362, 563), (511, 372), 190,
                   [("K", 477, 362)], 1.04, 2.077)

# ---------------- panels L M N ----------------
sxd = [-6.78, 4.77]
lyd = [-1.277, -0.33]
nyd = [1.06, 2.09]


def sc_chart(title, ys, blo, bhi, ly, yd, yvals, annot, ann_y, cell, origin, w, lets):
    p = Panel(cell, origin, w, 160)
    xa_ = p.xaxis([-5, -2.5, 0, 2.5], "Risk_score", 7.5, 9.8, fmt=".1f", tpad=2)
    ya_ = p.yaxis(yvals, title, 7.5, 9.6, fmt=".2f", tpad=2)
    return p.finish([
        *scatter_layers(p, ys, blo, bhi, ly, sxd, yd, xa_, ya_, annot, ann_y),
        *[p.letter(c, lx, lyy) for c, lx, lyy in lets],
    ])


L_chart = sc_chart("TIDE", TIDE, L_band_lo, L_band_hi, L_line_y, lyd, [-1.25, -1.0, -0.75, -0.5],
                   "R = \u22120.14, p = 0.057", -0.414, (4, 236, 563, 756), (39, 572), 191, [("L", 4, 568)])
M_chart = sc_chart("Dysfunction", TIDE, L_band_lo, L_band_hi, L_line_y, lyd, [-1.25, -1.0, -0.75, -0.5],
                   "R = \u22120.14, p = 0.057", -0.414, (236, 477, 563, 756), (277, 572), 191,
                   [("M", 237, 568), ("N", 463, 568)])
N_chart = sc_chart("Exclusion", EXCL, N_band_lo, N_band_hi, N_line_y, nyd, [1.25, 1.5, 1.75, 2.0],
                   "R = 0.34, p = 3.7e\u221206", 2.0, (477, 702, 563, 756), (510, 572), 191, [])

# ---------------- layout: cells tile exactly ----------------
row1 = row([A_chart, B_block, E_chart, F_chart])
left2 = col([LEG_chart, row([C_chart, D_chart])])
row2 = row([left2, G_chart, H_chart])
row3 = row([I_chart, J_chart, K_chart])
row4 = row([L_chart, M_chart, N_chart])

chart = col([row1, row2, row3, row4]).properties(padding=0)
chart = chart.configure(font=FONT).configure_view(strokeWidth=0, stroke="transparent")

chart.save("out.html", embed_options={"renderer": "svg", "actions": False})
